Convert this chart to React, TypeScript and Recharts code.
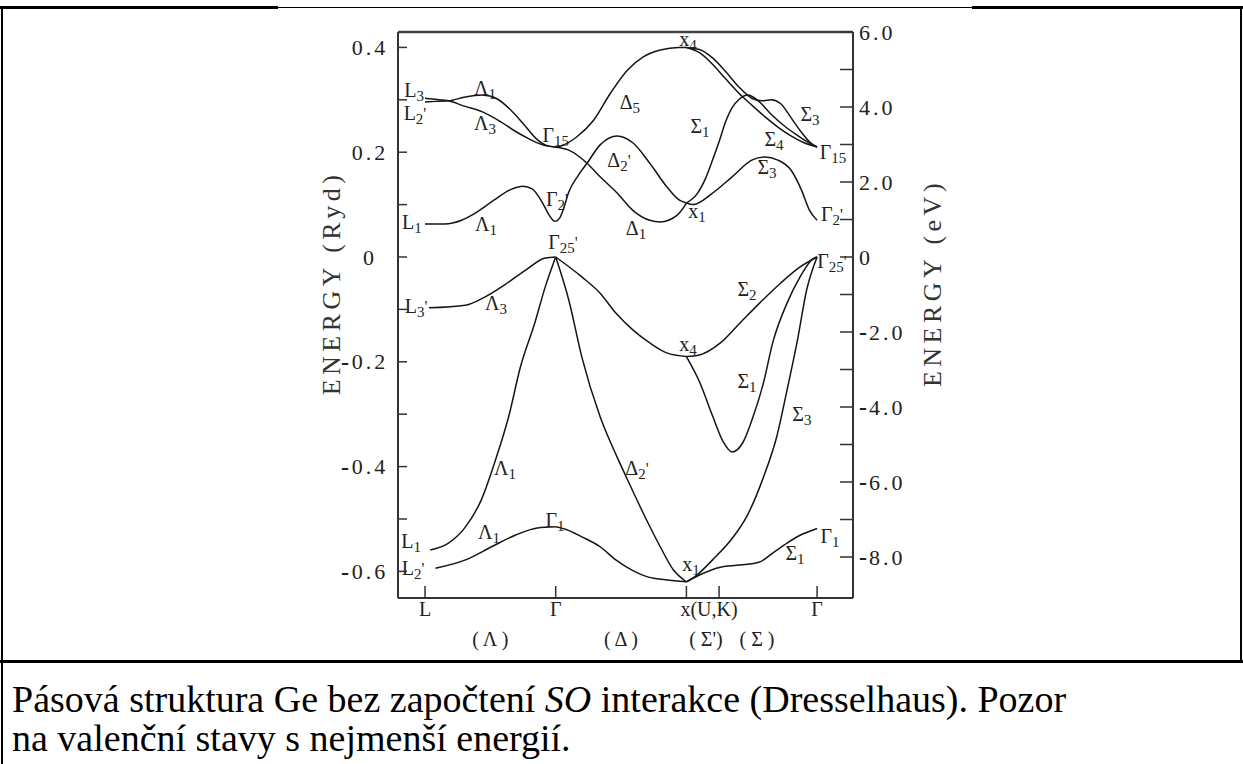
import React from 'react';
import { LineChart, Line, XAxis, YAxis, ReferenceDot, ReferenceLine } from 'recharts';

type Pt = [number, number];

// wave vector: L = 0, Γ = 1, X = 2, U,K = 2.25, Γ = 3 ; energy in Ryd

// L -> Γ (Λ)
const lamL3: Pt[] = [[0, 0.303], [0.08, 0.301], [0.18, 0.298], [0.3, 0.288], [0.44, 0.277], [0.58, 0.258], [0.69, 0.24], [0.8, 0.225], [0.9, 0.214], [1, 0.21]];
const lamL2p: Pt[] = [[0, 0.296], [0.08, 0.297], [0.18, 0.298], [0.3, 0.305], [0.44, 0.309], [0.55, 0.302], [0.65, 0.282], [0.75, 0.255], [0.85, 0.226], [0.93, 0.213], [1, 0.21]];
const lamL1c: Pt[] = [[0, 0.063], [0.15, 0.063], [0.28, 0.07], [0.4, 0.086], [0.53, 0.109], [0.65, 0.128], [0.75, 0.135], [0.82, 0.13], [0.9, 0.103], [0.95, 0.08], [0.98, 0.07], [1, 0.068]];
const lamL3v: Pt[] = [[0.03, -0.097], [0.31, -0.092], [0.46, -0.076], [0.61, -0.053], [0.77, -0.025], [0.92, -0.002], [1, 0]];
const lamL1v: Pt[] = [[0.04, -0.559], [0.18, -0.546], [0.31, -0.515], [0.43, -0.464], [0.54, -0.387], [0.64, -0.305], [0.73, -0.21], [0.84, -0.126], [0.92, -0.057], [1, 0]];
const lamL2v: Pt[] = [[0.08, -0.594], [0.31, -0.578], [0.51, -0.553], [0.69, -0.531], [0.86, -0.517], [1, -0.515]];

// Γ -> X (Δ)
const delta2p: Pt[] = [[1, 0.068], [1.03, 0.074], [1.06, 0.092], [1.1, 0.124], [1.17, 0.155], [1.24, 0.179], [1.34, 0.214], [1.47, 0.231], [1.59, 0.218], [1.72, 0.179], [1.85, 0.134], [1.95, 0.108], [2, 0.103]];
const delta1: Pt[] = [[1, 0.21], [1.1, 0.204], [1.24, 0.179], [1.34, 0.153], [1.47, 0.122], [1.59, 0.089], [1.72, 0.07], [1.8, 0.067], [1.93, 0.08], [2, 0.103]];
const delta5: Pt[] = [[1, 0.21], [1.04, 0.212], [1.16, 0.229], [1.29, 0.261], [1.42, 0.313], [1.55, 0.357], [1.67, 0.382], [1.8, 0.395], [1.94, 0.4], [2, 0.4]];
const delta5v: Pt[] = [[1, 0], [1.2, -0.038], [1.34, -0.069], [1.46, -0.107], [1.59, -0.139], [1.72, -0.164], [1.85, -0.183], [2, -0.19]];
const delta2pv: Pt[] = [[1, 0], [1.1, -0.082], [1.2, -0.191], [1.34, -0.305], [1.47, -0.382], [1.54, -0.42], [1.67, -0.489], [1.8, -0.553], [1.9, -0.597], [2, -0.62]];
const delta1v: Pt[] = [[1, -0.515], [1.08, -0.52], [1.2, -0.534], [1.34, -0.553], [1.46, -0.578], [1.58, -0.597], [1.71, -0.611], [1.84, -0.616], [2, -0.62]];

// X -> U,K -> Γ (Σ', Σ)
const sig4: Pt[] = [[2, 0.4], [2.1, 0.39], [2.2, 0.368], [2.3, 0.34], [2.4, 0.313], [2.5, 0.29], [2.6, 0.268], [2.7, 0.248], [2.8, 0.231], [2.9, 0.218], [3, 0.21]];
const sig3up: Pt[] = [[2, 0.4], [2.1, 0.396], [2.2, 0.38], [2.3, 0.354], [2.4, 0.325], [2.5, 0.303], [2.58, 0.298], [2.65, 0.3], [2.72, 0.293], [2.8, 0.266], [2.88, 0.238], [2.95, 0.218], [3, 0.21]];
const sig1up: Pt[] = [[2, 0.103], [2.08, 0.12], [2.15, 0.152], [2.2, 0.185], [2.25, 0.22], [2.3, 0.258], [2.35, 0.285], [2.4, 0.3], [2.47, 0.309], [2.55, 0.298], [2.65, 0.272], [2.75, 0.25], [2.85, 0.232], [2.95, 0.216], [3, 0.21]];
const sig3c: Pt[] = [[2, 0.103], [2.05, 0.1], [2.2, 0.122], [2.35, 0.153], [2.5, 0.185], [2.6, 0.191], [2.7, 0.185], [2.8, 0.166], [2.88, 0.128], [2.94, 0.09], [3, 0.07]];
const sig2v: Pt[] = [[2, -0.19], [2.1, -0.187], [2.26, -0.164], [2.41, -0.126], [2.56, -0.088], [2.72, -0.05], [2.87, -0.019], [3, 0]];
const sig1v: Pt[] = [[2, -0.19], [2.1, -0.238], [2.2, -0.303], [2.28, -0.352], [2.35, -0.372], [2.43, -0.355], [2.51, -0.305], [2.59, -0.24], [2.66, -0.164], [2.77, -0.088], [2.87, -0.038], [2.97, -0.003], [3, 0]];
const sig3v: Pt[] = [[2, -0.62], [2.05, -0.613], [2.2, -0.578], [2.36, -0.534], [2.46, -0.496], [2.59, -0.42], [2.69, -0.344], [2.77, -0.254], [2.85, -0.158], [2.92, -0.063], [3, 0]];
const sig1low: Pt[] = [[2, -0.62], [2.1, -0.607], [2.26, -0.592], [2.41, -0.588], [2.56, -0.582], [2.66, -0.565], [2.77, -0.546], [2.87, -0.531], [3, -0.518]];

const bands: Pt[][] = [
  lamL3, lamL2p, lamL1c, lamL3v, lamL1v, lamL2v,
  delta2p, delta1, delta5, delta5v, delta2pv, delta1v,
  sig4, sig3up, sig1up, sig3c, sig2v, sig1v, sig3v, sig1low,
];

// [k, E, symbol, subscript, prime]
const bandLabels: [number, number, string, string, string][] = [
  [-0.084, 0.317, 'L', '3', ''], [-0.077, 0.273, 'L', '2', "'"], [0.459, 0.321, 'Λ', '1', ''],
  [0.459, 0.254, 'Λ', '3', ''], [1.0, 0.231, 'Γ', '15', ''], [-0.1, 0.065, 'L', '1', ''],
  [0.467, 0.061, 'Λ', '1', ''], [1.01, 0.109, 'Γ', '2', "'"], [1.056, 0.027, 'Γ', '25', "'"],
  [1.568, 0.294, 'Δ', '5', ''], [1.484, 0.183, 'Δ', '2', "'"], [1.614, 0.053, 'Δ', '1', ''],
  [2.012, 0.414, 'x', '4', ''], [2.081, 0.086, 'x', '1', ''], [2.104, 0.248, 'Σ', '1', ''],
  [2.946, 0.271, 'Σ', '3', ''], [2.67, 0.223, 'Σ', '4', ''], [3.122, 0.198, 'Γ', '15', ''],
  [2.617, 0.17, 'Σ', '3', ''], [3.114, 0.08, 'Γ', '2', "'"], [3.114, -0.01, 'Γ', '25', "'"],
  [-0.069, -0.095, 'L', '3', "'"], [0.543, -0.09, 'Λ', '3', ''], [2.012, -0.168, 'x', '4', ''],
  [2.464, -0.063, 'Σ', '2', ''], [2.464, -0.239, 'Σ', '1', ''], [2.884, -0.302, 'Σ', '3', ''],
  [0.612, -0.405, 'Λ', '1', ''], [1.622, -0.405, 'Δ', '2', "'"], [0.49, -0.527, 'Λ', '1', ''],
  [0.995, -0.504, 'Γ', '1', ''], [-0.107, -0.544, 'L', '1', ''], [-0.092, -0.595, 'L', '2', "'"],
  [2.035, -0.588, 'x', '1', ''], [3.099, -0.534, 'Γ', '1', ''], [2.831, -0.567, 'Σ', '1', ''],
];

const kTicks = [0, 1, 2, 2.25, 3];
const kTickLabels = ['L', 'Γ', 'x(U,K)', '', 'Γ'];
const dirTicks = [0.5, 1.5, 2.15, 2.54];
const dirLabels = ['( Λ )', '( Δ )', "( Σ')", '( Σ )'];
const rydTicks = [0.4, 0.3, 0.2, 0.1, 0, -0.1, -0.2, -0.3, -0.4, -0.5, -0.6];
const evTicks = [6, 5, 4, 3, 2, 1, 0, -1, -2, -3, -4, -5, -6, -7, -8];

const K_DOMAIN: [number, number] = [-0.2066, 3.2747];
const RYD_DOMAIN: [number, number] = [-0.6508, 0.4294];
const EV_DOMAIN: [number, number] = [-9.093, 6];

const SERIF = '"Liberation Serif", "Times New Roman", serif';
const INK = '#222';
const AXIS = '#333';

const RydTick = (p: any) => {
  const { x, y, payload } = p;
  const v: number = payload.value;
  const major = Math.round(v * 10) % 2 === 0;
  return (
    <g>
      <line x1={x} x2={x + 9} y1={y} y2={y} stroke={AXIS} strokeWidth={1.5} />
      {major && (
        <text x={x - 28} y={y} dy="0.35em" textAnchor="middle" fontFamily={SERIF} fontSize={22} letterSpacing={3} fill={INK}>
          {v === 0 ? '0' : Math.abs(v).toFixed(1)}
        </text>
      )}
      {major && v < 0 && (
        <text x={x - 53} y={y} dy="0.35em" textAnchor="middle" fontFamily={SERIF} fontSize={24} fontWeight="bold" fill={INK}>-</text>
      )}
    </g>
  );
};

const EvTick = (p: any) => {
  const { x, y, payload } = p;
  const v: number = payload.value;
  const major = v % 2 === 0;
  return (
    <g>
      <line x1={x - 13} x2={x} y1={y} y2={y} stroke={AXIS} strokeWidth={1.5} />
      {major && v < 0 && (
        <text x={x + 6} y={y} dy="0.35em" fontFamily={SERIF} fontSize={24} fontWeight="bold" fill={INK}>-</text>
      )}
      {major && (
        <text x={v < 0 ? x + 16 : x + 6} y={y} dy="0.35em" fontFamily={SERIF} fontSize={22} letterSpacing={3} fill={INK}>
          {v === 0 ? '0' : Math.abs(v).toFixed(1)}
        </text>
      )}
    </g>
  );
};

const KTick = (p: any) => {
  const { x, y, index } = p;
  const label = kTickLabels[index] ?? '';
  const isX = label.startsWith('x');
  return (
    <g>
      <line x1={x} x2={x} y1={y} y2={y - 12} stroke={AXIS} strokeWidth={1.5} />
      {label && (
        <text x={isX ? x - 6 : x} y={y + 18} textAnchor={isX ? 'start' : 'middle'} fontFamily={SERIF} fontSize={20} fill={INK}>
          {label}
        </text>
      )}
    </g>
  );
};

const DirTick = (p: any) => {
  const { x, y, index } = p;
  return (
    <text x={x} y={y + 22} textAnchor="middle" fontFamily={SERIF} fontSize={20} fill={INK}>
      {dirLabels[index]}
    </text>
  );
};

const Sym = ({ vb, base, sub, prime }: any) => {
  const x = vb.x;
  const y = vb.y;
  return (
    <text x={x} y={y + 6} textAnchor="middle" fontFamily={SERIF} fontSize={20} fill={INK}>
      {base}
      <tspan fontSize={15} dy={4}>{sub}</tspan>
      {prime ? <tspan fontSize={16} dy={-5}>{prime}</tspan> : null}
    </text>
  );
};

const TitleLeft = (p: any) => {
  const vb = p.viewBox;
  const cx = vb.x + 13;
  const cy = vb.y + 251;
  return (
    <text x={cx} y={cy} transform={`rotate(-90 ${cx} ${cy})`} textAnchor="middle" dominantBaseline="central" fontFamily={SERIF} fontSize={26} letterSpacing={4.5} fill="#333">
      ENERGY (Ryd)
    </text>
  );
};

const TitleRight = (p: any) => {
  const vb = p.viewBox;
  const cx = vb.x + 79;
  const cy = vb.y + 251;
  return (
    <text x={cx} y={cy} transform={`rotate(-90 ${cx} ${cy})`} textAnchor="middle" dominantBaseline="central" fontFamily={SERIF} fontSize={26} letterSpacing={4.5} fill="#333">
      ENERGY (eV)
    </text>
  );
};

const line = (style: React.CSSProperties) => <div style={{ position: 'absolute', background: '#000', ...style }} />;

export default function App() {
  return (
    <div style={{ position: 'relative', width: 1243, height: 764, background: '#fff', overflow: 'hidden' }}>
      <style>{'body{margin:0}'}</style>
      <div style={{ position: 'absolute', left: 0, top: 0 }}>
        <LineChart width={1243} height={660} margin={{ top: 32, right: 310, bottom: 6, left: 318 }}>
          <XAxis
            xAxisId="a"
            type="number"
            dataKey="k"
            domain={K_DOMAIN}
            allowDataOverflow
            ticks={kTicks}
            interval={0}
            height={26}
            tickSize={0}
            tickMargin={0}
            tickLine={false}
            tick={<KTick />}
            axisLine={{ stroke: AXIS, strokeWidth: 2 }}
          />
          <XAxis
            xAxisId="b"
            type="number"
            dataKey="k"
            domain={K_DOMAIN}
            allowDataOverflow
            ticks={dirTicks}
            interval={0}
            height={30}
            tickSize={0}
            tickMargin={0}
            tickLine={false}
            axisLine={false}
            tick={<DirTick />}
          />
          <YAxis
            yAxisId="ryd"
            orientation="left"
            type="number"
            domain={RYD_DOMAIN}
            allowDataOverflow
            ticks={rydTicks}
            interval={0}
            width={80}
            tickSize={0}
            tickMargin={0}
            tickLine={false}
            tick={<RydTick />}
            axisLine={{ stroke: AXIS, strokeWidth: 2 }}
            label={{ content: TitleLeft }}
          />
          <YAxis
            yAxisId="ev"
            orientation="right"
            type="number"
            domain={EV_DOMAIN}
            allowDataOverflow
            ticks={evTicks}
            interval={0}
            width={80}
            tickSize={0}
            tickMargin={0}
            tickLine={false}
            tick={<EvTick />}
            axisLine={{ stroke: AXIS, strokeWidth: 2 }}
            label={{ content: TitleRight }}
          />
          <ReferenceLine xAxisId="a" yAxisId="ryd" y={RYD_DOMAIN[1]} stroke="#444" strokeWidth={2.5} />
          {bands.map((b, i) => (
            <Line
              key={i}
              xAxisId="a"
              yAxisId="ryd"
              data={b.map(([k, e]) => ({ k, e }))}
              dataKey="e"
              type="monotone"
              stroke="#151515"
              strokeWidth={1.5}
              dot={false}
              activeDot={false}
              isAnimationActive={false}
            />
          ))}
          {bandLabels.map(([k, e, base, sub, prime], i) => (
            <ReferenceDot
              key={`l${i}`}
              xAxisId="a"
              yAxisId="ryd"
              x={k}
              y={e}
              r={0}
              fill="none"
              stroke="none"
              ifOverflow="visible"
              label={(p: any) => <Sym vb={p.viewBox} base={base} sub={sub} prime={prime} />}
            />
          ))}
        </LineChart>
      </div>
      {line({ left: 0, top: 6, width: 278, height: 3 })}
      {line({ left: 278, top: 7, width: 694, height: 1 })}
      {line({ left: 972, top: 6, width: 271, height: 3 })}
      {line({ left: 1, top: 6, width: 2, height: 758 })}
      {line({ left: 1240, top: 6, width: 2, height: 656 })}
      {line({ left: 0, top: 660, width: 1243, height: 3 })}
      <div style={{ position: 'absolute', left: 12, top: 680, fontFamily: SERIF, fontSize: 38, lineHeight: '39px', color: '#000', whiteSpace: 'nowrap' }}>
        <div>Pásová struktura Ge bez započtení <i>SO</i> interakce (Dresselhaus). Pozor</div>
        <div>na valenční stavy s nejmenší energií.</div>
      </div>
    </div>
  );
}
